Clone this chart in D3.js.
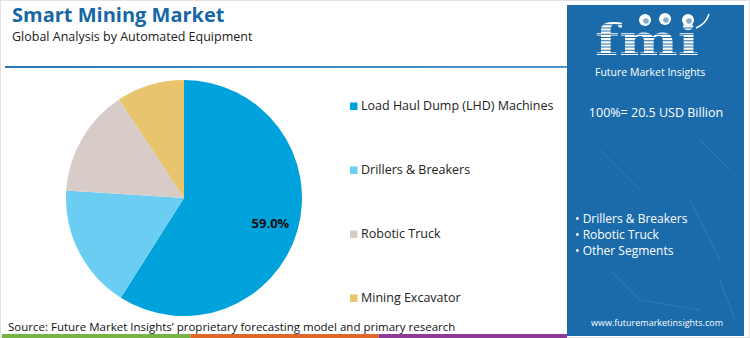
<!DOCTYPE html>
<html>
<head>
<meta charset="utf-8">
<script src="https://cdn.jsdelivr.net/npm/d3@7"></script>
<style>
  html, body { margin: 0; padding: 0; background: #fff; }
  svg { display: block; font-family: "Open Sans", "Noto Sans", sans-serif; }
</style>
</head>
<body>
<svg id="chart" width="750" height="338"></svg>
<script>
const categories = ["Load Haul Dump (LHD) Machines", "Drillers & Breakers", "Robotic Truck", "Mining Excavator"];
const shares = [59.0, 17.0, 14.7, 9.3];
const colors = ["#00A2DC", "#6BCDF1", "#D8CCC8", "#E9C46E"];
const panelBullets = ["Drillers & Breakers", "Robotic Truck", "Other Segments"];
const totalLabel = "100%= 20.5 USD Billion";
const titleText = "Smart Mining Market";
const subtitleText = "Global Analysis by Automated Equipment";
const sourceText = "Source: Future Market Insights’ proprietary forecasting model and primary research";
const bottomBarColors = ["#78B443", "#E0672A", "#8E3A97"];

const svg = d3.select("#chart");
const W = 750, H = 338;
const defs = svg.append("defs");

// outer frame
svg.append("rect").attr("x", 0.5).attr("y", 0.5).attr("width", W - 1).attr("height", H - 1)
  .attr("fill", "#fff").attr("stroke", "#e2e2e2");

// title
svg.append("text").attr("x", 12).attr("y", 22).text(titleText)
  .attr("font-size", 20).attr("font-weight", 700).attr("fill", "#1767A5");
svg.append("text").attr("x", 12).attr("y", 41).text(subtitleText)
  .attr("font-size", 12.5).attr("fill", "#222");

// header rule
const grad = defs.append("linearGradient").attr("id", "rule");
grad.append("stop").attr("offset", "0%").attr("stop-color", "#2878B5");
grad.append("stop").attr("offset", "100%").attr("stop-color", "#4f95c9");
svg.append("rect").attr("x", 5).attr("y", 66).attr("width", 565).attr("height", 2).attr("fill", "url(#rule)");

// pie
const cx = 184, cy = 198, R = 118;
const pie = d3.pie().sort(null).value(d => d)(shares);
const arc = d3.arc().innerRadius(0).outerRadius(R);
const g = svg.append("g").attr("transform", `translate(${cx},${cy})`);
g.selectAll("path").data(pie).join("path")
  .attr("d", arc).attr("fill", (d, i) => colors[i]);
const labelArc = d3.arc().innerRadius(90).outerRadius(90);
g.append("text").attr("transform", `translate(${labelArc.centroid(pie[0])})`)
  .attr("text-anchor", "middle").attr("dy", "0.35em")
  .attr("font-size", 13).attr("font-weight", 700).attr("fill", "#111")
  .text(shares[0].toFixed(1) + "%");

// legend
const ly = d3.scalePoint().domain(categories).range([106, 298]);
const lg = svg.append("g");
categories.forEach((c, i) => {
  lg.append("rect").attr("x", 350).attr("y", ly(c) - 3.5).attr("width", 7.5).attr("height", 7.5).attr("fill", colors[i]);
  lg.append("text").attr("x", 361).attr("y", ly(c)).attr("dy", "0.35em")
    .attr("font-size", 12.5).attr("fill", "#222").text(c);
});

// source
svg.append("text").attr("x", 8).attr("y", 331).text(sourceText)
  .attr("font-size", 11.5).attr("fill", "#111");

// bottom bar
const bx = d3.scaleLinear().domain([0, 3]).range([2, 567]);
bottomBarColors.forEach((c, i) => {
  svg.append("rect").attr("x", bx(i)).attr("y", 334).attr("width", bx(i + 1) - bx(i)).attr("height", 4).attr("fill", c);
});

// right panel
const px = 567, pw = 177;
svg.append("rect").attr("x", px).attr("y", 5).attr("width", pw).attr("height", 331).attr("fill", "#1B6BAB");
const tex = [[600,150,640,190],[690,200,720,260],[610,270,640,300],[700,140,730,170],[640,300,700,310],[720,280,735,320]];
tex.forEach(t => svg.append("line").attr("x1", t[0]).attr("y1", t[1]).attr("x2", t[2]).attr("y2", t[3])
  .attr("stroke", "#ffffff").attr("stroke-opacity", 0.1).attr("stroke-width", 1));

// logo
const logo = svg.append("g");
const clip = defs.append("clipPath").attr("id", "stripes");
for (let y = 22; y < 60; y += 3.2) clip.append("rect").attr("x", 580).attr("y", y).attr("width", 150).attr("height", 2.2);
logo.append("text").attr("x", 595).attr("y", 55)
  .attr("font-family", "'DejaVu Serif', serif").attr("font-weight", 700).attr("font-size", 42)
  .attr("textLength", 104).attr("lengthAdjust", "spacingAndGlyphs")
  .attr("fill", "#fff").attr("clip-path", "url(#stripes)").text("fmi");
[[645, 20], [665, 19], [688, 20]].forEach(p => {
  logo.append("circle").attr("cx", p[0]).attr("cy", p[1]).attr("r", 6).attr("fill", "#fff");
  logo.append("circle").attr("cx", p[0] + 1).attr("cy", p[1] + 1).attr("r", 2.8).attr("fill", "#1B6BAB").attr("opacity", 0.55);
});
logo.append("path").attr("d", "M696,28 Q706,24 709,14").attr("fill", "none").attr("stroke", "#fff").attr("stroke-width", 1.5);
svg.append("text").attr("x", 595).attr("y", 76).text("Future Market Insights")
  .attr("font-size", 10.5).attr("fill", "#fff");

svg.append("text").attr("x", 656).attr("y", 117).attr("text-anchor", "middle").text(totalLabel)
  .attr("font-size", 12.5).attr("fill", "#fff");

const by = d3.scalePoint().domain(panelBullets).range([219, 251]);
panelBullets.forEach(b => {
  svg.append("text").attr("x", 575).attr("y", by(b)).attr("dy", "0.35em")
    .attr("font-size", 12).attr("fill", "#fff").text("• " + b);
});
svg.append("text").attr("x", 657).attr("y", 326).attr("text-anchor", "middle")
  .text("www.futuremarketinsights.com").attr("font-size", 9).attr("fill", "#fff");
</script>
</body>
</html>
